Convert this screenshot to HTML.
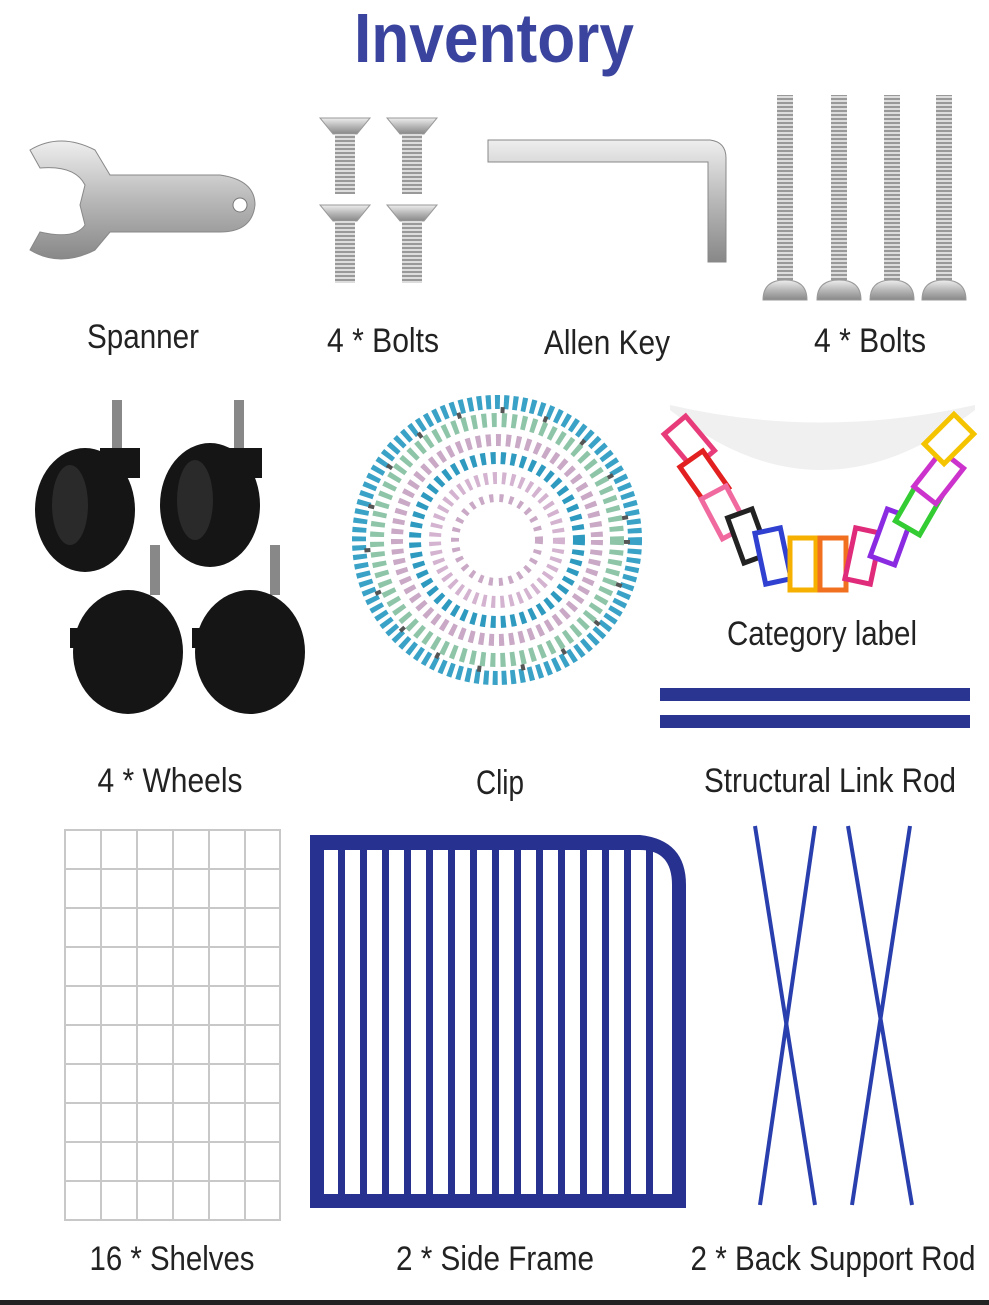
<!DOCTYPE html>
<html><head><meta charset="utf-8"><style>
html,body{margin:0;padding:0;background:#fff;}
svg{display:block;}
text{font-family:"Liberation Sans Narrow","Liberation Sans",sans-serif;}
</style></head><body>
<svg width="989" height="1305" viewBox="0 0 989 1305" xmlns="http://www.w3.org/2000/svg">
<defs>
<linearGradient id="met" x1="0" y1="0" x2="0" y2="1"><stop offset="0" stop-color="#eee"/><stop offset=".5" stop-color="#b8b8b8"/><stop offset="1" stop-color="#888"/></linearGradient>
<pattern id="thr" width="6" height="4" patternUnits="userSpaceOnUse"><rect width="6" height="4" fill="#999"/><rect width="6" height="2" fill="#ddd"/></pattern>
</defs>
<rect width="989" height="1305" fill="#fff"/>
<text x="494" y="62" text-anchor="middle" font-size="70" font-weight="bold" fill="#3a449e" textLength="280" lengthAdjust="spacingAndGlyphs">Inventory</text>

<!-- Spanner -->
<path d="M30 150 Q60 132 95 150 L110 175 L220 175 Q255 180 255 205 Q252 232 220 232 L110 232 L95 250 Q60 268 30 250 L40 232 Q75 240 85 225 L80 205 L85 185 Q75 165 40 168 Z" fill="url(#met)" stroke="#888"/>
<circle cx="240" cy="205" r="7" fill="#fff" stroke="#777"/>

<!-- Small bolts -->
<g>
<g transform="translate(345,118)"><path d="M-25 0 H25 L12 16 H-12 Z" fill="url(#met)" stroke="#999"/><rect x="-10" y="16" width="20" height="60" fill="url(#thr)"/></g>
<g transform="translate(412,118)"><path d="M-25 0 H25 L12 16 H-12 Z" fill="url(#met)" stroke="#999"/><rect x="-10" y="16" width="20" height="60" fill="url(#thr)"/></g>
<g transform="translate(345,205)"><path d="M-25 0 H25 L12 16 H-12 Z" fill="url(#met)" stroke="#999"/><rect x="-10" y="16" width="20" height="62" fill="url(#thr)"/></g>
<g transform="translate(412,205)"><path d="M-25 0 H25 L12 16 H-12 Z" fill="url(#met)" stroke="#999"/><rect x="-10" y="16" width="20" height="62" fill="url(#thr)"/></g>
</g>

<!-- Allen key -->
<path d="M488 140 H710 Q726 142 726 158 V262 H708 V162 H488 Z" fill="url(#met)" stroke="#888"/>

<!-- Long bolts -->
<g>
<g transform="translate(785,0)"><rect x="-8" y="95" width="16" height="190" fill="url(#thr)"/><path d="M-22 300 Q-22 280 0 280 Q22 280 22 300 Z" fill="url(#met)" stroke="#999"/></g>
<g transform="translate(839,0)"><rect x="-8" y="95" width="16" height="190" fill="url(#thr)"/><path d="M-22 300 Q-22 280 0 280 Q22 280 22 300 Z" fill="url(#met)" stroke="#999"/></g>
<g transform="translate(892,0)"><rect x="-8" y="95" width="16" height="190" fill="url(#thr)"/><path d="M-22 300 Q-22 280 0 280 Q22 280 22 300 Z" fill="url(#met)" stroke="#999"/></g>
<g transform="translate(944,0)"><rect x="-8" y="95" width="16" height="190" fill="url(#thr)"/><path d="M-22 300 Q-22 280 0 280 Q22 280 22 300 Z" fill="url(#met)" stroke="#999"/></g>
</g>

<g font-size="34" fill="#222" text-anchor="middle">
<text x="143" y="348" textLength="112" lengthAdjust="spacingAndGlyphs">Spanner</text>
<text x="383" y="352" textLength="112" lengthAdjust="spacingAndGlyphs">4 * Bolts</text>
<text x="607" y="354" textLength="126" lengthAdjust="spacingAndGlyphs">Allen Key</text>
<text x="870" y="352" textLength="112" lengthAdjust="spacingAndGlyphs">4 * Bolts</text>
</g>

<!-- Wheels -->
<g fill="#151515">
<rect x="112" y="400" width="10" height="50" fill="#888"/><ellipse cx="85" cy="510" rx="50" ry="62"/><rect x="100" y="448" width="40" height="30"/>
<rect x="234" y="400" width="10" height="50" fill="#888"/><ellipse cx="210" cy="505" rx="50" ry="62"/><rect x="222" y="448" width="40" height="30"/>
<rect x="150" y="545" width="10" height="50" fill="#888"/><ellipse cx="128" cy="652" rx="55" ry="62"/><rect x="70" y="628" width="25" height="20"/>
<rect x="270" y="545" width="10" height="50" fill="#888"/><ellipse cx="250" cy="652" rx="55" ry="62"/><rect x="192" y="628" width="25" height="20"/>
<ellipse cx="70" cy="505" rx="18" ry="40" fill="#2a2a2a"/><ellipse cx="195" cy="500" rx="18" ry="40" fill="#2a2a2a"/>
</g>

<!-- Clip rings -->
<g fill="none">
<circle cx="497" cy="540" r="138" stroke="#3aa2c6" stroke-width="14" stroke-dasharray="5 4"/>
<circle cx="497" cy="540" r="120" stroke="#8ec5a8" stroke-width="14" stroke-dasharray="5 5"/>
<circle cx="497" cy="540" r="100" stroke="#c9a9c6" stroke-width="12" stroke-dasharray="5 5"/>
<circle cx="497" cy="540" r="82" stroke="#2e9ac0" stroke-width="12" stroke-dasharray="5 5"/>
<circle cx="497" cy="540" r="62" stroke="#d3b3d0" stroke-width="12" stroke-dasharray="4 5"/>
<circle cx="497" cy="540" r="42" stroke="#c9a9c6" stroke-width="8" stroke-dasharray="4 6"/>
<circle cx="497" cy="540" r="130" stroke="#555" stroke-width="6" stroke-dasharray="4 40"/>
</g>

<!-- Category label arc -->
<g>
<path d="M670 410 Q820 530 975 410 L975 405 Q820 440 670 405 Z" fill="#f0f0f0"/>
<g stroke-width="5" fill="#fff">
<rect x="675" y="420" width="28" height="45" stroke="#e83c7a" transform="rotate(-40 689 442)"/>
<rect x="690" y="455" width="28" height="45" stroke="#e32020" transform="rotate(-35 704 477)"/>
<rect x="710" y="490" width="28" height="45" stroke="#f06aa0" transform="rotate(-28 724 512)"/>
<rect x="735" y="512" width="26" height="48" stroke="#222" transform="rotate(-20 748 536)"/>
<rect x="760" y="530" width="26" height="52" stroke="#3040d0" transform="rotate(-12 773 556)"/>
<rect x="790" y="538" width="26" height="52" stroke="#f5b000"/>
<rect x="820" y="538" width="26" height="52" stroke="#f07020"/>
<rect x="850" y="530" width="26" height="52" stroke="#e02a7a" transform="rotate(12 863 556)"/>
<rect x="878" y="512" width="26" height="50" stroke="#8a2be2" transform="rotate(20 891 537)"/>
<rect x="905" y="485" width="28" height="46" stroke="#33cc33" transform="rotate(30 919 508)"/>
<rect x="925" y="455" width="28" height="45" stroke="#cc33cc" transform="rotate(38 939 477)"/>
<rect x="935" y="418" width="28" height="42" stroke="#f5c400" transform="rotate(45 949 439)"/>
</g>
</g>
<text x="822" y="645" font-size="34" fill="#222" text-anchor="middle" textLength="190" lengthAdjust="spacingAndGlyphs">Category label</text>

<!-- Link rods -->
<rect x="660" y="688" width="310" height="13" fill="#2a3592"/>
<rect x="660" y="715" width="310" height="13" fill="#2a3592"/>

<g font-size="34" fill="#222" text-anchor="middle">
<text x="170" y="792" textLength="145" lengthAdjust="spacingAndGlyphs">4 * Wheels</text>
<text x="500" y="794" textLength="48" lengthAdjust="spacingAndGlyphs">Clip</text>
<text x="830" y="792" textLength="252" lengthAdjust="spacingAndGlyphs">Structural Link Rod</text>
</g>

<!-- Shelf grid -->
<g stroke="#c8c8c8" stroke-width="2" fill="none">
<rect x="65" y="830" width="215" height="390"/>
<line x1="101" y1="830" x2="101" y2="1220"/><line x1="137" y1="830" x2="137" y2="1220"/><line x1="173" y1="830" x2="173" y2="1220"/><line x1="209" y1="830" x2="209" y2="1220"/><line x1="245" y1="830" x2="245" y2="1220"/>
<line x1="65" y1="869" x2="280" y2="869"/><line x1="65" y1="908" x2="280" y2="908"/><line x1="65" y1="947" x2="280" y2="947"/><line x1="65" y1="986" x2="280" y2="986"/><line x1="65" y1="1025" x2="280" y2="1025"/><line x1="65" y1="1064" x2="280" y2="1064"/><line x1="65" y1="1103" x2="280" y2="1103"/><line x1="65" y1="1142" x2="280" y2="1142"/><line x1="65" y1="1181" x2="280" y2="1181"/>
</g>

<!-- Side frame -->
<g fill="#27318f">
<path d="M310 835 H640 Q686 840 686 885 V1208 H672 V885 Q672 850 640 850 H310 Z"/>
<rect x="310" y="835" width="14" height="373"/>
<rect x="310" y="1194" width="376" height="14"/>
<rect x="338" y="850" width="7" height="344"/><rect x="360" y="850" width="7" height="344"/><rect x="382" y="850" width="7" height="344"/><rect x="404" y="850" width="7" height="344"/><rect x="426" y="850" width="7" height="344"/><rect x="448" y="850" width="7" height="344"/><rect x="470" y="850" width="7" height="344"/><rect x="492" y="850" width="7" height="344"/><rect x="514" y="850" width="7" height="344"/><rect x="536" y="850" width="7" height="344"/><rect x="558" y="850" width="7" height="344"/><rect x="580" y="850" width="7" height="344"/><rect x="602" y="850" width="7" height="344"/><rect x="624" y="850" width="7" height="344"/><rect x="646" y="850" width="7" height="344"/>
</g>

<!-- Back support rods -->
<g stroke="#2a3fae" stroke-width="4">
<line x1="755" y1="826" x2="815" y2="1205"/><line x1="815" y1="826" x2="760" y2="1205"/>
<line x1="848" y1="826" x2="912" y2="1205"/><line x1="910" y1="826" x2="852" y2="1205"/>
</g>

<g font-size="34" fill="#222" text-anchor="middle">
<text x="172" y="1270" textLength="165" lengthAdjust="spacingAndGlyphs">16 * Shelves</text>
<text x="495" y="1270" textLength="198" lengthAdjust="spacingAndGlyphs">2 * Side Frame</text>
<text x="833" y="1270" textLength="285" lengthAdjust="spacingAndGlyphs">2 * Back Support Rod</text>
</g>
<rect x="0" y="1300" width="989" height="5" fill="#222"/>
</svg>
</body></html>
